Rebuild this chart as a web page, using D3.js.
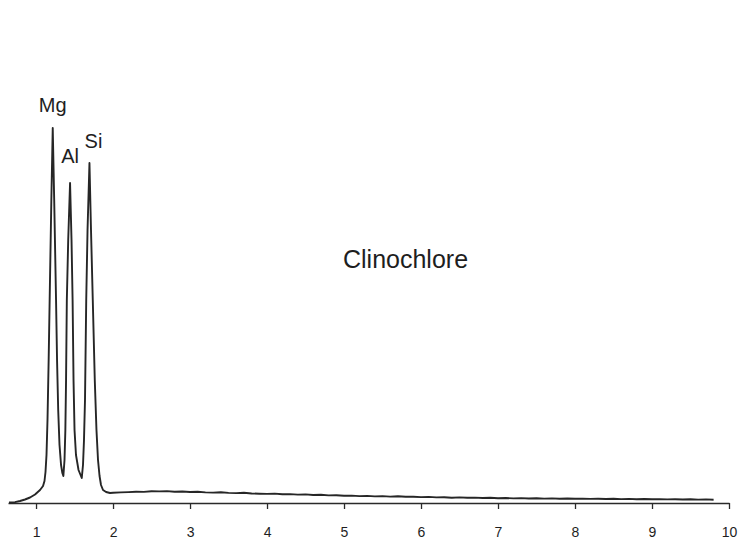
<!DOCTYPE html>
<html>
<head>
<meta charset="utf-8">
<script src="https://cdn.jsdelivr.net/npm/d3@7"></script>
<style>
  html, body { margin: 0; padding: 0; background: #fff; }
  svg { display: block; }
  text { font-family: "Liberation Sans", Arial, Helvetica, sans-serif; fill: #1e1e1e; }
</style>
</head>
<body>
<svg id="chart" width="752" height="544"></svg>
<script>
// EDS spectrum of clinochlore: energy (keV) against counts (arbitrary units)
const energy = [
  0.649, 0.727, 0.792, 0.857, 0.922, 0.987, 1.052, 1.091, 1.110, 1.123,
  1.136, 1.149, 1.164, 1.177, 1.199, 1.217, 1.236, 1.260, 1.273, 1.288,
  1.305, 1.325, 1.342, 1.355, 1.370, 1.381, 1.390, 1.400, 1.418, 1.442,
  1.461, 1.475, 1.487, 1.500, 1.519, 1.552, 1.594, 1.610, 1.623, 1.636,
  1.652, 1.669, 1.694, 1.714, 1.737, 1.763, 1.785, 1.805, 1.825, 1.844,
  1.870, 1.910, 1.961,
  2.0, 2.1, 2.2, 2.3, 2.4, 2.5, 2.6, 2.7, 2.8, 2.9,
  3.0, 3.1, 3.2, 3.3, 3.4, 3.5, 3.6, 3.7, 3.8, 3.9,
  4.0, 4.1, 4.2, 4.3, 4.4, 4.5, 4.6, 4.7, 4.8, 4.9,
  5.0, 5.1, 5.2, 5.3, 5.4, 5.5, 5.6, 5.7, 5.8, 5.9,
  6.0, 6.1, 6.2, 6.3, 6.4, 6.5, 6.6, 6.7, 6.8, 6.9,
  7.0, 7.1, 7.2, 7.3, 7.4, 7.5, 7.6, 7.7, 7.8, 7.9,
  8.0, 8.1, 8.2, 8.3, 8.4, 8.5, 8.6, 8.7, 8.8, 8.9,
  9.0, 9.1, 9.2, 9.3, 9.4, 9.5, 9.6, 9.7, 9.8
];
const counts = [
  0.5, 0.8, 2, 3.5, 5.5, 8.5, 13, 17, 22, 31,
  48, 83, 143, 203, 303, 375, 303, 203, 143, 93,
  58, 38, 30, 27, 43, 73, 123, 203, 263, 320,
  263, 203, 123, 73, 48, 33, 25, 38, 63, 103,
  203, 273, 340, 273, 203, 123, 73, 43, 27, 18,
  13, 11, 10,
  10.2, 10.6, 10.9, 11.3, 11.1, 11.8, 11.6, 11.9, 11.2, 11.5,
  11.0, 11.3, 10.6, 10.4, 10.8, 10.1, 9.9, 10.2, 9.5, 9.3,
  9.1, 9.4, 8.7, 8.9, 8.4, 8.6, 8.0, 8.2, 7.6, 7.8,
  7.2, 7.4, 6.9, 7.1, 6.6, 6.9, 6.4, 6.7, 6.2, 6.3,
  5.9, 6.1, 5.6, 5.8, 5.3, 5.6, 5.2, 5.4, 5.0, 5.2,
  4.8, 5.0, 4.6, 4.9, 4.5, 4.7, 4.4, 4.6, 4.3, 4.5,
  4.2, 4.4, 4.1, 4.3, 4.0, 4.2, 3.9, 4.1, 3.8, 4.0,
  3.7, 3.9, 3.6, 3.8, 3.5, 3.7, 3.4, 3.6, 3.3
];

// Axis ticks (keV)
const tickValues = [1, 2, 3, 4, 5, 6, 7, 8, 9, 10];

// Element peaks
const peakNames = ["Mg", "Al", "Si"];
const peakEnergy = [1.217, 1.442, 1.694];
const peakCounts = [375, 320, 340];

const sampleName = "Clinochlore";

// ---- layout ----
const svg = d3.select("#chart");
const x = d3.scaleLinear().domain([0.636, 10]).range([8, 729]);
const y = d3.scaleLinear().domain([0, 400]).range([503, 103]);

// label offsets relative to each peak apex
const labelOffset = { Mg: [0, -16], Al: [0, -20], Si: [4, -15] };

// x axis
const axis = d3.axisBottom(x)
  .tickValues(tickValues)
  .tickSize(6)
  .tickSizeOuter(0)
  .tickPadding(18)
  .tickFormat(d3.format("d"));

const gAxis = svg.append("g")
  .attr("transform", `translate(0,${y(0)})`)
  .call(axis);
gAxis.select(".domain").attr("stroke", "#2a2a2a").attr("stroke-width", 1.6);
gAxis.selectAll(".tick line").attr("stroke", "#2a2a2a").attr("stroke-width", 1.3);
gAxis.selectAll(".tick text")
  .attr("font-family", "'Liberation Sans', Arial, sans-serif")
  .attr("font-size", 14)
  .attr("fill", "#262626");

// spectrum trace
const pts = energy.map((e, i) => [e, counts[i]]);
const line = d3.line()
  .x(d => x(d[0]))
  .y(d => y(d[1]))
  .curve(d3.curveLinear);

svg.append("path")
  .datum(pts)
  .attr("d", line)
  .attr("fill", "none")
  .attr("stroke", "#262626")
  .attr("stroke-width", 1.9)
  .attr("stroke-linejoin", "round");

// peak labels
svg.selectAll("text.peak")
  .data(peakNames)
  .join("text")
  .attr("class", "peak")
  .attr("x", (d, i) => x(peakEnergy[i]) + labelOffset[d][0])
  .attr("y", (d, i) => y(peakCounts[i]) + labelOffset[d][1])
  .attr("text-anchor", "middle")
  .attr("font-size", 20)
  .text(d => d);

// sample name
svg.append("text")
  .attr("x", 343)
  .attr("y", 268)
  .attr("font-size", 25)
  .text(sampleName);
</script>
</body>
</html>
